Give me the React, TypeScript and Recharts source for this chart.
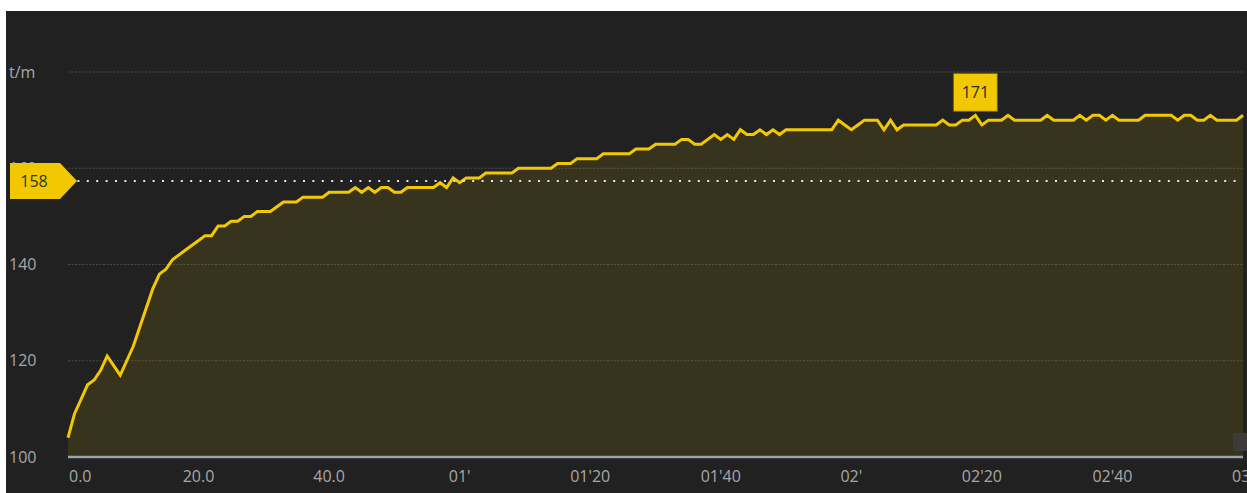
import { ComposedChart, Area, XAxis, YAxis, CartesianGrid, ReferenceLine, ReferenceDot } from "recharts";

// cadence (t/m), one reading per second
const values = [
  104, 109, 112, 115, 116, 118, 121, 119, 117, 120,
  123, 127, 131, 135, 138, 139, 141, 142, 143, 144,
  145, 146, 146, 148, 148, 149, 149, 150, 150, 151,
  151, 151, 152, 153, 153, 153, 154, 154, 154, 154,
  155, 155, 155, 155, 156, 155, 156, 155, 156, 156,
  155, 155, 156, 156, 156, 156, 156, 157, 156, 158,
  157, 158, 158, 158, 159, 159, 159, 159, 159, 160,
  160, 160, 160, 160, 160, 161, 161, 161, 162, 162,
  162, 162, 163, 163, 163, 163, 163, 164, 164, 164,
  165, 165, 165, 165, 166, 166, 165, 165, 166, 167,
  166, 167, 166, 168, 167, 167, 168, 167, 168, 167,
  168, 168, 168, 168, 168, 168, 168, 168, 170, 169,
  168, 169, 170, 170, 170, 168, 170, 168, 169, 169,
  169, 169, 169, 169, 170, 169, 169, 170, 170, 171,
  169, 170, 170, 170, 171, 170, 170, 170, 170, 170,
  171, 170, 170, 170, 170, 171, 170, 171, 171, 170,
  171, 170, 170, 170, 170, 171, 171, 171, 171, 171,
  170, 171, 171, 170, 170, 171, 170, 170, 170, 170,
  171,
];
const seconds = values.map((_, i) => i);

const xTicks = [0, 20, 40, 60, 80, 100, 120, 140, 160, 180];
const xTickLabels = ["0.0", "20.0", "40.0", "01'", "01'20", "01'40", "02'", "02'20", "02'40", "03'"];
const yTicks = [100, 120, 140, 160, 180];
const yTickLabels = ["100", "120", "140", "160", "t/m"];

const averageValue = 157.35;
const averageLabel = "158";
const peakSecond = 139;
const peakValue = 171;

const data = seconds.map((t, i) => ({ t, value: values[i] }));

const FONT = "'Open Sans', 'Noto Sans', sans-serif";
const YELLOW = "#f2c900";
const TEXT = "#a8a8a8";

// the 160 tick sits under the average badge, so the badge draws it itself
const hiddenTick = 160;

function XTick(props: any) {
  const { x, y, payload } = props;
  const first = payload.value === xTicks[0];
  const label = xTickLabels[xTicks.indexOf(payload.value)];
  return (
    <text x={first ? x + 1 : x} y={y + 24.5} textAnchor={first ? "start" : "middle"} fill={TEXT} fontSize={16} fontFamily={FONT}>
      {label}
    </text>
  );
}

function YTick(props: any) {
  const { y, payload } = props;
  if (payload.value === hiddenTick) return <g />;
  const label = yTickLabels[yTicks.indexOf(payload.value)];
  return (
    <text x={3} y={y + 5.5} textAnchor="start" fill={TEXT} fontSize={16} fontFamily={FONT}>
      {label}
    </text>
  );
}

function AverageLabel(props: any) {
  const cy = props.viewBox ? props.viewBox.y : 0;
  const tickY = cy - (hiddenTick - averageValue) * 4.8125;
  const pts = `4,${cy - 18} 54,${cy - 18} 71,${cy} 54,${cy + 18} 4,${cy + 18}`;
  return (
    <g>
      <text x={3} y={tickY + 5.5} textAnchor="start" fill={TEXT} fontSize={16} fontFamily={FONT}>
        {yTickLabels[yTicks.indexOf(hiddenTick)]}
      </text>
      <polygon points={pts} fill={YELLOW} />
      <text x={28} y={cy + 5.5} textAnchor="middle" fill="#333" fontSize={16} fontFamily={FONT}>
        {averageLabel}
      </text>
    </g>
  );
}

function PeakBox(props: any) {
  const { cx, cy } = props;
  return (
    <g>
      <rect x={cx - 22} y={cy - 42} width={44} height={38} fill={YELLOW} stroke="#6e6010" strokeWidth={1} />
      <text x={cx} y={cy - 17.5} textAnchor="middle" fill="#2a2a2a" fontSize={16} fontFamily={FONT}>
        {peakValue}
      </text>
    </g>
  );
}

export default function App() {
  return (
    <div style={{ position: "absolute", left: 6, top: 11, width: 1241, height: 482, background: "#212121", overflow: "hidden" }}>
      <ComposedChart width={1241} height={482} data={data} margin={{ top: 61, right: 4, bottom: 6, left: 0 }}>
        <CartesianGrid vertical={false} stroke="#4a4a4a" strokeDasharray="2 1.5" />
        <XAxis
          dataKey="t"
          type="number"
          domain={[0, 180]}
          ticks={xTicks}
          interval={0}
          height={30}
          tickLine={false}
          tickSize={0}
          tickMargin={0}
          axisLine={{ stroke: "#98a4ac", strokeWidth: 2.5 }}
          tick={<XTick />}
        />
        <YAxis
          type="number"
          domain={[100, 180]}
          ticks={yTicks}
          interval={0}
          width={62}
          axisLine={false}
          tickLine={false}
          tick={<YTick />}
        />
        <Area
          type="linear"
          dataKey="value"
          stroke={YELLOW}
          strokeWidth={3}
          fill="#f5c800"
          fillOpacity={0.11}
          dot={false}
          activeDot={false}
          isAnimationActive={false}
        />
        <ReferenceLine
          y={averageValue}
          stroke="#e6e6e6"
          strokeWidth={2}
          strokeDasharray="2 7.4"
          label={(p: any) => <AverageLabel {...p} />}
        />
        <ReferenceDot x={peakSecond} y={peakValue} r={1} shape={(p: any) => <PeakBox {...p} />} />
      </ComposedChart>
      <div style={{ position: "absolute", left: 1227, top: 422, width: 14, height: 18, background: "#3b3b3b" }} />
    </div>
  );
}
